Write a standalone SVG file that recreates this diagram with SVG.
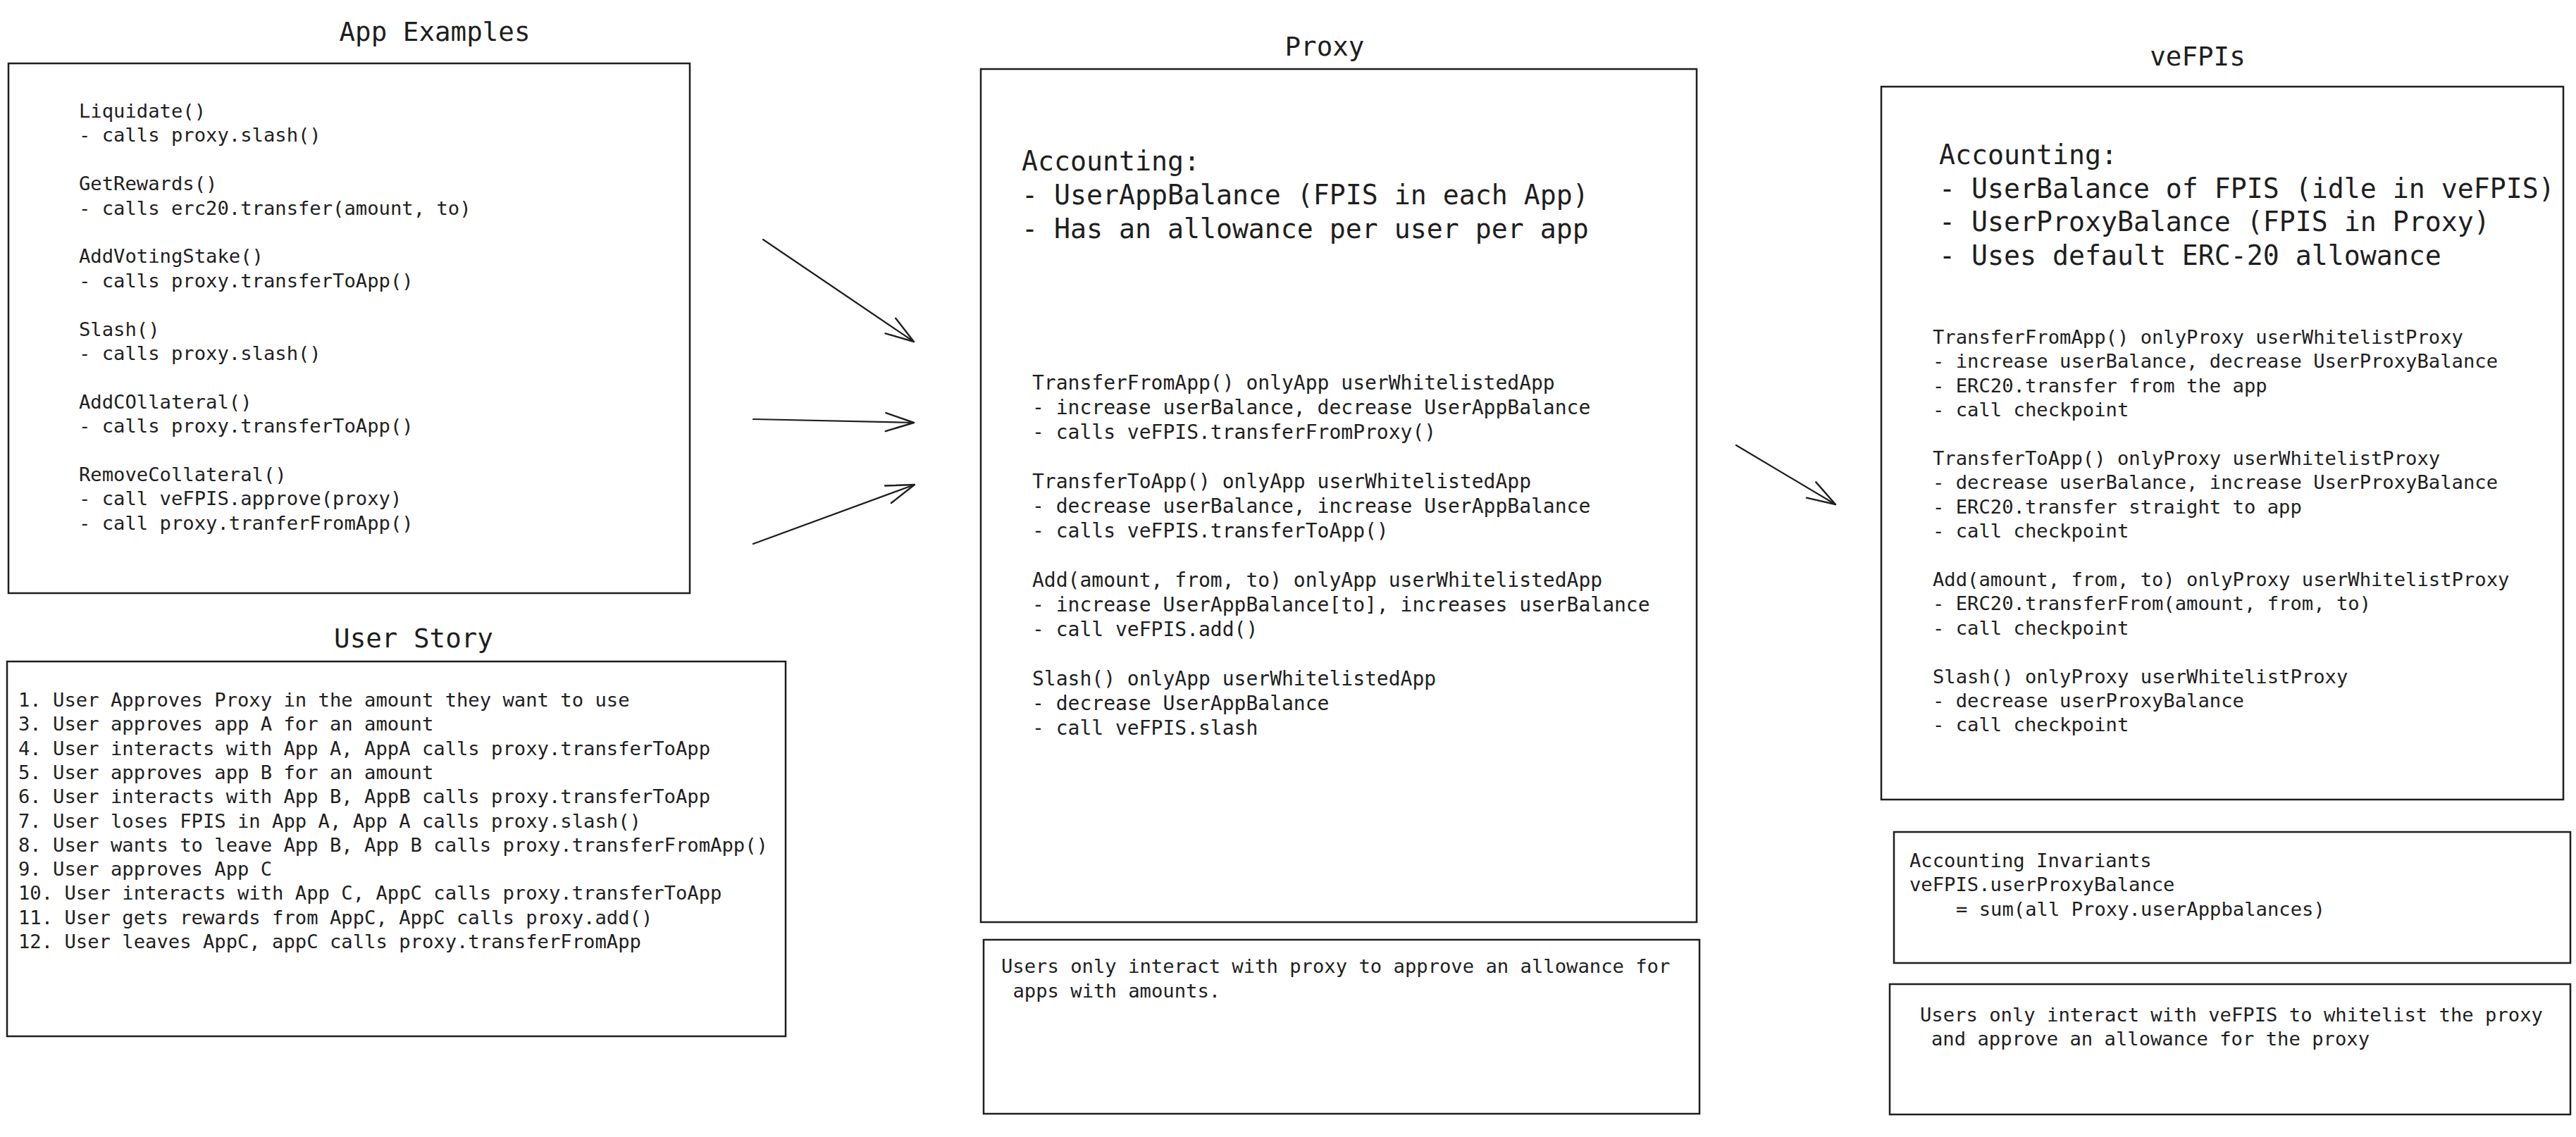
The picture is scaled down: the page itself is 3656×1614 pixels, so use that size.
<svg xmlns="http://www.w3.org/2000/svg" width="3656" height="1614" viewBox="0 0 3656 1614">
<style>
.box{fill:none;stroke:#1e1e1e;stroke-width:2.5}
.t{font-family:"DejaVu Sans Mono","Liberation Mono",monospace;fill:#1e1e1e}
.title{font-size:37.5px;text-anchor:middle}
.acc{font-size:38.2px}
.body{font-size:27.2px}
.pbody{font-size:28px}
.conn{fill:none;stroke:#1e1e1e;stroke-width:2.2;stroke-linecap:round}
</style>
<defs>
<marker id="arr" markerUnits="userSpaceOnUse" viewBox="-50 -20 55 40" markerWidth="55" markerHeight="40" refX="0" refY="0" orient="auto">
<path d="M-40,-13 L0,0 L-40,13" fill="none" stroke="#1e1e1e" stroke-width="2.4" stroke-linecap="round" stroke-linejoin="round"/>
</marker>
</defs>
<rect width="3656" height="1614" fill="#ffffff"/>

<g id="app-examples">
<text class="t title" x="617" y="58">App Examples</text>
<rect class="box" x="12" y="90" width="967" height="752"/>
<text class="t body" x="112" y="167">
<tspan x="112" y="167">Liquidate()</tspan>
<tspan x="112" y="201.4">- calls proxy.slash()</tspan>
<tspan x="112" y="270.2">GetRewards()</tspan>
<tspan x="112" y="304.6">- calls erc20.transfer(amount, to)</tspan>
<tspan x="112" y="373.4">AddVotingStake()</tspan>
<tspan x="112" y="407.8">- calls proxy.transferToApp()</tspan>
<tspan x="112" y="476.6">Slash()</tspan>
<tspan x="112" y="511">- calls proxy.slash()</tspan>
<tspan x="112" y="579.8">AddCOllateral()</tspan>
<tspan x="112" y="614.2">- calls proxy.transferToApp()</tspan>
<tspan x="112" y="683">RemoveCollateral()</tspan>
<tspan x="112" y="717.4">- call veFPIS.approve(proxy)</tspan>
<tspan x="112" y="751.8">- call proxy.tranferFromApp()</tspan>
</text>
</g>

<g id="user-story">
<text class="t title" x="587" y="919">User Story</text>
<rect class="box" x="10" y="939" width="1105" height="532"/>
<text class="t body">
<tspan x="26" y="1003">1. User Approves Proxy in the amount they want to use</tspan>
<tspan x="26" y="1037.3">3. User approves app A for an amount</tspan>
<tspan x="26" y="1071.6">4. User interacts with App A, AppA calls proxy.transferToApp</tspan>
<tspan x="26" y="1105.9">5. User approves app B for an amount</tspan>
<tspan x="26" y="1140.2">6. User interacts with App B, AppB calls proxy.transferToApp</tspan>
<tspan x="26" y="1174.5">7. User loses FPIS in App A, App A calls proxy.slash()</tspan>
<tspan x="26" y="1208.8">8. User wants to leave App B, App B calls proxy.transferFromApp()</tspan>
<tspan x="26" y="1243.1">9. User approves App C</tspan>
<tspan x="26" y="1277.4">10. User interacts with App C, AppC calls proxy.transferToApp</tspan>
<tspan x="26" y="1311.7">11. User gets rewards from AppC, AppC calls proxy.add()</tspan>
<tspan x="26" y="1346">12. User leaves AppC, appC calls proxy.transferFromApp</tspan>
</text>
</g>

<g id="proxy">
<text class="t title" x="1880" y="79">Proxy</text>
<rect class="box" x="1392" y="98" width="1016" height="1211"/>
<text class="t acc">
<tspan x="1450" y="242">Accounting:</tspan>
<tspan x="1450" y="290">- UserAppBalance (FPIS in each App)</tspan>
<tspan x="1450" y="338">- Has an allowance per user per app</tspan>
</text>
<text class="t pbody">
<tspan x="1465" y="553">TransferFromApp() onlyApp userWhitelistedApp</tspan>
<tspan x="1465" y="588">- increase userBalance, decrease UserAppBalance</tspan>
<tspan x="1465" y="623">- calls veFPIS.transferFromProxy()</tspan>
<tspan x="1465" y="693">TransferToApp() onlyApp userWhitelistedApp</tspan>
<tspan x="1465" y="728">- decrease userBalance, increase UserAppBalance</tspan>
<tspan x="1465" y="763">- calls veFPIS.transferToApp()</tspan>
<tspan x="1465" y="833">Add(amount, from, to) onlyApp userWhitelistedApp</tspan>
<tspan x="1465" y="868">- increase UserAppBalance[to], increases userBalance</tspan>
<tspan x="1465" y="903">- call veFPIS.add()</tspan>
<tspan x="1465" y="973">Slash() onlyApp userWhitelistedApp</tspan>
<tspan x="1465" y="1008">- decrease UserAppBalance</tspan>
<tspan x="1465" y="1043">- call veFPIS.slash</tspan>
</text>
</g>

<g id="proxy-note">
<rect class="box" x="1396" y="1334" width="1016" height="247"/>
<text class="t body">
<tspan x="1421" y="1381">Users only interact with proxy to approve an allowance for</tspan>
<tspan x="1437.5" y="1415.5">apps with amounts.</tspan>
</text>
</g>

<g id="vefpis">
<text class="t title" x="3119" y="93">veFPIs</text>
<rect class="box" x="2670" y="123" width="968" height="1012"/>
<text class="t acc">
<tspan x="2752" y="233">Accounting:</tspan>
<tspan x="2752" y="280.5">- UserBalance of FPIS (idle in veFPIS)</tspan>
<tspan x="2752" y="328">- UserProxyBalance (FPIS in Proxy)</tspan>
<tspan x="2752" y="375.5">- Uses default ERC-20 allowance</tspan>
</text>
<text class="t body">
<tspan x="2743" y="488">TransferFromApp() onlyProxy userWhitelistProxy</tspan>
<tspan x="2743" y="522.4">- increase userBalance, decrease UserProxyBalance</tspan>
<tspan x="2743" y="556.8">- ERC20.transfer from the app</tspan>
<tspan x="2743" y="591.2">- call checkpoint</tspan>
<tspan x="2743" y="660">TransferToApp() onlyProxy userWhitelistProxy</tspan>
<tspan x="2743" y="694.4">- decrease userBalance, increase UserProxyBalance</tspan>
<tspan x="2743" y="728.8">- ERC20.transfer straight to app</tspan>
<tspan x="2743" y="763.2">- call checkpoint</tspan>
<tspan x="2743" y="832">Add(amount, from, to) onlyProxy userWhitelistProxy</tspan>
<tspan x="2743" y="866.4">- ERC20.transferFrom(amount, from, to)</tspan>
<tspan x="2743" y="900.8">- call checkpoint</tspan>
<tspan x="2743" y="969.6">Slash() onlyProxy userWhitelistProxy</tspan>
<tspan x="2743" y="1004">- decrease userProxyBalance</tspan>
<tspan x="2743" y="1038.4">- call checkpoint</tspan>
</text>
</g>

<g id="invariants">
<rect class="box" x="2688" y="1181" width="960" height="186"/>
<text class="t body">
<tspan x="2710" y="1231">Accounting Invariants</tspan>
<tspan x="2710" y="1265.4">veFPIS.userProxyBalance</tspan>
<tspan x="2776" y="1299.8">= sum(all Proxy.userAppbalances)</tspan>
</text>
</g>

<g id="vefpis-note">
<rect class="box" x="2682" y="1397" width="966" height="185"/>
<text class="t body">
<tspan x="2725" y="1450">Users only interact with veFPIS to whitelist the proxy</tspan>
<tspan x="2741" y="1484.4">and approve an allowance for the proxy</tspan>
</text>
</g>

<g id="connectors">
<line class="conn" x1="1083" y1="340" x2="1297" y2="485" marker-end="url(#arr)"/>
<line class="conn" x1="1069" y1="595" x2="1297" y2="600" marker-end="url(#arr)"/>
<line class="conn" x1="1069" y1="772" x2="1298" y2="688" marker-end="url(#arr)"/>
<line class="conn" x1="2464" y1="632" x2="2605" y2="716" marker-end="url(#arr)"/>
</g>
</svg>
